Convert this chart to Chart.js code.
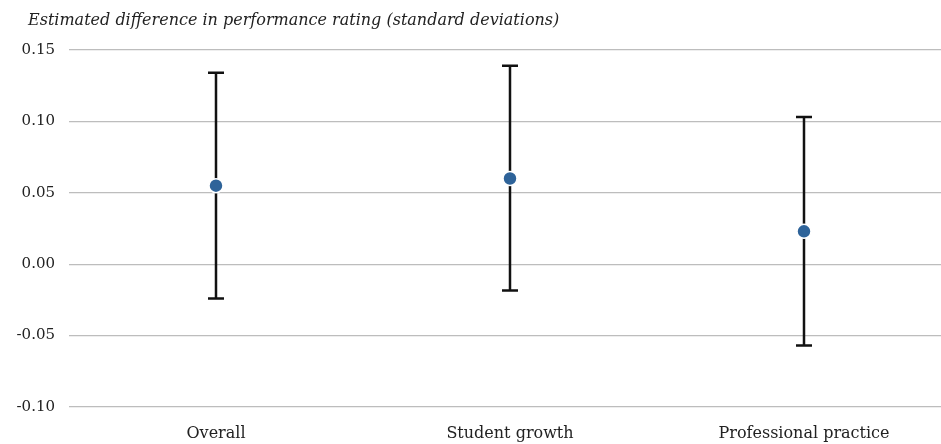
<!DOCTYPE html>
<html>
<head>
<meta charset="utf-8">
<script src="https://cdn.jsdelivr.net/npm/chart.js@4.4.1/dist/chart.umd.min.js"></script>
<style>
  html, body { margin: 0; padding: 0; background: #fff; }
  #wrap { position: relative; width: 941px; height: 444px; }
  #title {
    position: absolute; left: 28px; top: 10px;
    font-family: "DejaVu Serif", serif; font-style: italic; font-size: 16px;
    color: #222; white-space: nowrap;
  }
  canvas { display: block; }
</style>
</head>
<body>
<div id="wrap">
  <div id="title">Estimated difference in performance rating (standard deviations)</div>
  <canvas id="chart" width="941" height="444"></canvas>
</div>
<script>
  // ─── Data ───────────────────────────────────────────────────────────────────
  const categories = ["Overall", "Student growth", "Professional practice"];
  const estimates = [0.055, 0.060, 0.023];
  const lowerCI = [-0.024, -0.0185, -0.057];
  const upperCI = [0.134, 0.139, 0.103];
  const yTicks = [-0.10, -0.05, 0.00, 0.05, 0.10, 0.15];

  const serif = "'DejaVu Serif', serif";

  // Error bars drawn behind the points, positioned via the chart scales
  const errorBars = {
    id: "errorBars",
    beforeDatasetsDraw(chart) {
      const { ctx, scales: { x, y } } = chart;
      ctx.save();
      ctx.strokeStyle = "#111";
      ctx.lineWidth = 2.5;
      const cap = 8;
      categories.forEach((_, i) => {
        const px = x.getPixelForValue(i);
        const top = y.getPixelForValue(upperCI[i]);
        const bot = y.getPixelForValue(lowerCI[i]);
        ctx.beginPath();
        ctx.moveTo(px, top); ctx.lineTo(px, bot);
        ctx.moveTo(px - cap, top); ctx.lineTo(px + cap, top);
        ctx.moveTo(px - cap, bot); ctx.lineTo(px + cap, bot);
        ctx.stroke();
      });
      ctx.restore();
    },
  };

  new Chart(document.getElementById("chart"), {
    type: "scatter",
    data: {
      datasets: [{
        data: estimates.map((v, i) => ({ x: i, y: v })),
        backgroundColor: "#2e6399",
        borderColor: "#ffffff",
        borderWidth: 1.5,
        pointRadius: 7,
        pointHoverRadius: 7,
        clip: false,
      }],
    },
    options: {
      responsive: false,
      animation: false,
      layout: { autoPadding: false, padding: { top: 50, right: 0, bottom: 0, left: 0 } },
      plugins: { legend: { display: false }, tooltip: { enabled: false } },
      scales: {
        x: {
          type: "linear",
          min: -0.5,
          max: 2.466,
          afterBuildTicks: (s) => { s.ticks = categories.map((_, i) => ({ value: i })); },
          afterFit: (s) => { s.height = 37; s.paddingLeft = 0; s.paddingRight = 0; },
          grid: { display: false },
          border: { display: false },
          ticks: {
            padding: 9,
            color: "#222",
            font: { family: serif, size: 16 },
            callback: (v) => categories[v],
            maxRotation: 0,
          },
        },
        y: {
          min: -0.10,
          max: 0.15,
          afterBuildTicks: (s) => { s.ticks = yTicks.map((v) => ({ value: v })); },
          afterFit: (s) => { s.width = 69; },
          grid: { color: "#bdbdbd", lineWidth: 1.3, drawTicks: false },
          border: { display: false },
          ticks: {
            padding: 14,
            color: "#222",
            font: { family: serif, size: 15 },
            callback: (v) => v.toFixed(2),
          },
        },
      },
    },
    plugins: [errorBars],
  });
</script>
</body>
</html>
